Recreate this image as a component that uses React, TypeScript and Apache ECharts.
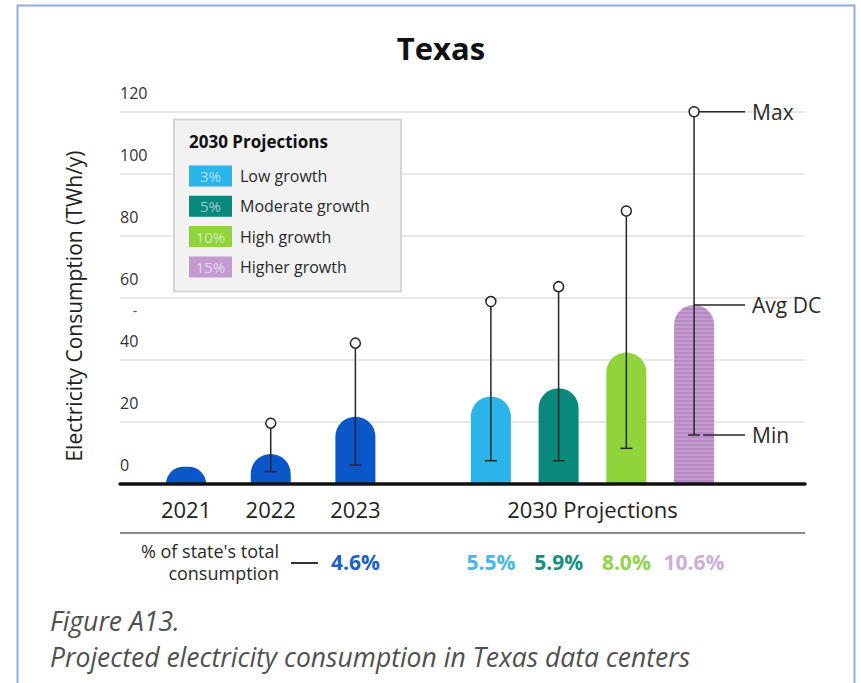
import React, { useEffect, useRef } from 'react';
import * as echarts from 'echarts';

// ---------- data ----------
const historyYears = ['2021', '2022', '2023'];
const historyValues = [5.6, 9.7, 21.7];
const historyMin = [null, 4.0, 6.1];
const historyMax = [null, 19.6, 45.4];
const historyShare = [null, null, 4.6];

const scenarioNames = ['Low growth', 'Moderate growth', 'High growth', 'Higher growth'];
const scenarioRates = ['3%', '5%', '10%', '15%'];
const scenarioValues = [28.2, 30.9, 42.4, 57.7];
const scenarioMin = [7.5, 7.5, 11.5, 15.8];
const scenarioMax = [58.8, 63.6, 88.0, 120.0];
const scenarioShare = [5.5, 5.9, 8.0, 10.6];
const projectionLabel = '2030 Projections';
const shareRowLabel = ["% of state's total", 'consumption'];

const yTicks = [0, 20, 40, 60, 80, 100, 120];

// ---------- styles ----------
const FONT = "'Open Sans', 'Noto Sans', sans-serif";
const HIST_COLOR = '#0b56c8';
const scenarioColors = ['#2bb4ea', '#08897b', '#8fd43a', '#c49bd0'];
const shareColors = ['#45b9e8', '#15907f', '#92d34e', '#cdaed9'];
const HIST_SHARE_COLOR = '#1d5fcc';

// layout of slots on the x axis (computed, not data)
const histStep = 5;
const projStart = 18;
const projStep = 4;
const histSlots = historyYears.map((_, i) => i * histStep);
const projSlots = scenarioNames.map((_, i) => projStart + i * projStep);
const projCenter = (projSlots[0] + projSlots[projSlots.length - 1]) / 2;

const labelMap: Record<number, string> = {};
historyYears.forEach((y, i) => (labelMap[histSlots[i]] = y));
labelMap[projCenter] = projectionLabel;

export default function App() {
  const ref = useRef<HTMLDivElement>(null);

  useEffect(() => {
    const chart = echarts.init(ref.current!, null, { renderer: 'svg' });

    const barData: any[] = [
      ...historyValues.map((v, i) => ({
        value: [histSlots[i], v],
        itemStyle: { color: HIST_COLOR },
      })),
      ...scenarioValues.map((v, i) => ({
        value: [projSlots[i], v],
        itemStyle: {
          color: scenarioColors[i],
          decal:
            i === 3
              ? {
                  symbol: 'rect',
                  symbolSize: 1,
                  symbolKeepAspect: false,
                  color: 'rgba(150,105,170,0.35)',
                  dashArrayX: [[1, 0]],
                  dashArrayY: [2, 2],
                  rotation: 0,
                }
              : 'none',
        },
      })),
    ];

    const errData: number[][] = [];
    historyValues.forEach((v, i) => {
      if (historyMin[i] != null && historyMax[i] != null)
        errData.push([histSlots[i], historyMin[i] as number, historyMax[i] as number, v]);
    });
    scenarioValues.forEach((v, i) => {
      errData.push([projSlots[i], scenarioMin[i], scenarioMax[i], v]);
    });

    const shareData: number[][] = [];
    const shareCols: string[] = [];
    historyShare.forEach((s, i) => {
      if (s != null) {
        shareData.push([histSlots[i], s]);
        shareCols.push(HIST_SHARE_COLOR);
      }
    });
    scenarioShare.forEach((s, i) => {
      shareData.push([projSlots[i], s]);
      shareCols.push(shareColors[i]);
    });

    const lineStyle = { stroke: '#262626', lineWidth: 1.5 };

    const option: any = {
      animation: false,
      backgroundColor: '#ffffff',
      textStyle: { fontFamily: FONT },
      grid: { left: 120, right: 56, top: 111.7, bottom: 199, containLabel: false },
      xAxis: {
        type: 'value',
        min: -3.9,
        max: 36.55,
        z: 5,
        splitLine: { show: false },
        axisTick: { show: false },
        axisLine: { show: true, onZero: false, lineStyle: { color: '#111111', width: 3.5 } },
        axisLabel: {
          customValues: Object.keys(labelMap).map(Number),
          formatter: (v: number) => labelMap[v] ?? '',
          margin: 14,
          fontSize: 22,
          color: '#222222',
          fontFamily: FONT,
        },
      },
      yAxis: {
        type: 'value',
        min: yTicks[0],
        max: yTicks[yTicks.length - 1],
        interval: 20,
        axisLine: { show: false },
        axisTick: { show: false },
        splitLine: { show: true, lineStyle: { color: '#e1e1e1', width: 1.6 } },
        axisLabel: {
          inside: true,
          margin: 0,
          align: 'left',
          verticalAlign: 'bottom',
          padding: [0, 0, 11, 0],
          fontSize: 16,
          color: '#333333',
          fontFamily: FONT,
        },
      },
      series: [
        {
          type: 'bar',
          barWidth: 40,
          data: barData,
          itemStyle: { borderRadius: [20, 20, 0, 0] },
          z: 2,
        },
        {
          type: 'custom',
          clip: false,
          z: 4,
          data: errData,
          renderItem: (params: any, api: any) => {
            const x = api.value(0);
            const lo = api.value(1);
            const hi = api.value(2);
            const avg = api.value(3);
            const top = api.coord([x, hi]);
            const bot = api.coord([x, lo]);
            const r = 5;
            const children: any[] = [
              { type: 'line', shape: { x1: top[0], y1: top[1] + r, x2: bot[0], y2: bot[1] }, style: lineStyle },
              { type: 'line', shape: { x1: bot[0] - 6, y1: bot[1], x2: bot[0] + 6, y2: bot[1] }, style: lineStyle },
              { type: 'circle', shape: { cx: top[0], cy: top[1], r }, style: { fill: '#ffffff', stroke: '#262626', lineWidth: 1.5 } },
            ];
            if (params.dataIndex === errData.length - 1) {
              const mid = api.coord([x, avg]);
              const endX = top[0] + 51;
              const lbl = (t: string, y: number) => ({
                type: 'text',
                style: { x: endX + 7, y, text: t, fill: '#2a2a2a', font: `21px ${FONT}`, align: 'left', verticalAlign: 'middle' },
              });
              children.push(
                { type: 'line', shape: { x1: top[0] + r, y1: top[1], x2: endX, y2: top[1] }, style: lineStyle },
                { type: 'line', shape: { x1: mid[0], y1: mid[1], x2: endX, y2: mid[1] }, style: lineStyle },
                { type: 'line', shape: { x1: bot[0] + 9, y1: bot[1], x2: endX, y2: bot[1] }, style: lineStyle },
                lbl('Max', top[1]),
                lbl('Avg DC', mid[1]),
                lbl('Min', bot[1])
              );
            }
            return { type: 'group', children };
          },
        },
        {
          type: 'custom',
          clip: false,
          z: 4,
          data: shareData,
          renderItem: (params: any, api: any) => {
            const x = api.value(0);
            const s = api.value(1);
            const p = api.coord([x, 0]);
            return {
              type: 'text',
              style: {
                x: p[0],
                y: p[1] + 78,
                text: s.toFixed(1) + '%',
                fill: shareCols[params.dataIndex],
                font: `bold 21px ${FONT}`,
                align: 'center',
                verticalAlign: 'middle',
              },
            };
          },
        },
      ],
      graphic: [
        // frame
        {
          type: 'polyline',
          z: 10,
          shape: { points: [[17.5, 683], [17.5, 5.5], [854.5, 5.5], [854.5, 683]] },
          style: { stroke: '#93abe2', lineWidth: 2, fill: null },
          silent: true,
        },
        {
          type: 'text',
          z: 10,
          style: { x: 441, y: 48, text: 'Texas', font: `bold 31px ${FONT}`, fill: '#111111', align: 'center', verticalAlign: 'middle' },
        },
        {
          type: 'text',
          z: 10,
          rotation: Math.PI / 2,
          x: 74,
          y: 306,
          style: { x: 0, y: 0, text: 'Electricity Consumption (TWh/y)', font: `21px ${FONT}`, fill: '#222222', align: 'center', verticalAlign: 'middle' },
        },
        {
          type: 'text',
          z: 10,
          style: { x: 135, y: 310, text: '-', font: `14px ${FONT}`, fill: '#555555', align: 'center', verticalAlign: 'middle' },
        },
        // legend box
        {
          type: 'group',
          z: 10,
          children: [
            { type: 'rect', z: 10, shape: { x: 174, y: 119.5, width: 227, height: 172 }, style: { fill: '#f2f2f2', stroke: '#d5d5d5', lineWidth: 2 } },
            { type: 'text', z: 11, style: { x: 189, y: 141, text: '2030 Projections', font: `bold 17px ${FONT}`, fill: '#111111', align: 'left', verticalAlign: 'middle' } },
            ...scenarioNames.flatMap((name, i) => {
              const cy = 176 + i * 30.3;
              return [
                { type: 'rect', z: 11, shape: { x: 189, y: cy - 10.5, width: 43, height: 21 }, style: { fill: scenarioColors[i] } },
                { type: 'text', z: 12, style: { x: 210.5, y: cy, text: scenarioRates[i], font: `15px ${FONT}`, fill: 'rgba(255,255,255,0.6)', align: 'center', verticalAlign: 'middle' } },
                { type: 'text', z: 12, style: { x: 240, y: cy, text: name, font: `16px ${FONT}`, fill: '#2a2a2a', align: 'left', verticalAlign: 'middle' } },
              ];
            }),
          ],
        },
        // rule under category labels
        {
          type: 'line',
          z: 10,
          shape: { x1: 120, y1: 533, x2: 805, y2: 533 },
          style: { stroke: '#8a8a8a', lineWidth: 2 },
        },
        ...shareRowLabel.map((t, i) => ({
          type: 'text',
          z: 10,
          style: { x: 279, y: 551 + i * 22, text: t, font: `18px ${FONT}`, fill: '#2a2a2a', align: 'right', verticalAlign: 'middle' },
        })),
        {
          type: 'line',
          z: 10,
          shape: { x1: 291, y1: 563, x2: 318, y2: 563 },
          style: { stroke: '#333333', lineWidth: 2 },
        },
        // caption
        {
          type: 'text',
          z: 10,
          style: { x: 50, y: 621, text: 'Figure A13.', font: `italic 26.5px ${FONT}`, fill: '#505050', align: 'left', verticalAlign: 'middle' },
        },
        {
          type: 'text',
          z: 10,
          style: { x: 50, y: 657, text: 'Projected electricity consumption in Texas data centers', font: `italic 26.5px ${FONT}`, fill: '#505050', align: 'left', verticalAlign: 'middle' },
        },
      ],
    };

    chart.setOption(option);
    return () => chart.dispose();
  }, []);

  return (
    <div
      ref={ref}
      style={{ position: 'fixed', left: 0, top: 0, width: 861, height: 683, background: '#ffffff' }}
    />
  );
}
